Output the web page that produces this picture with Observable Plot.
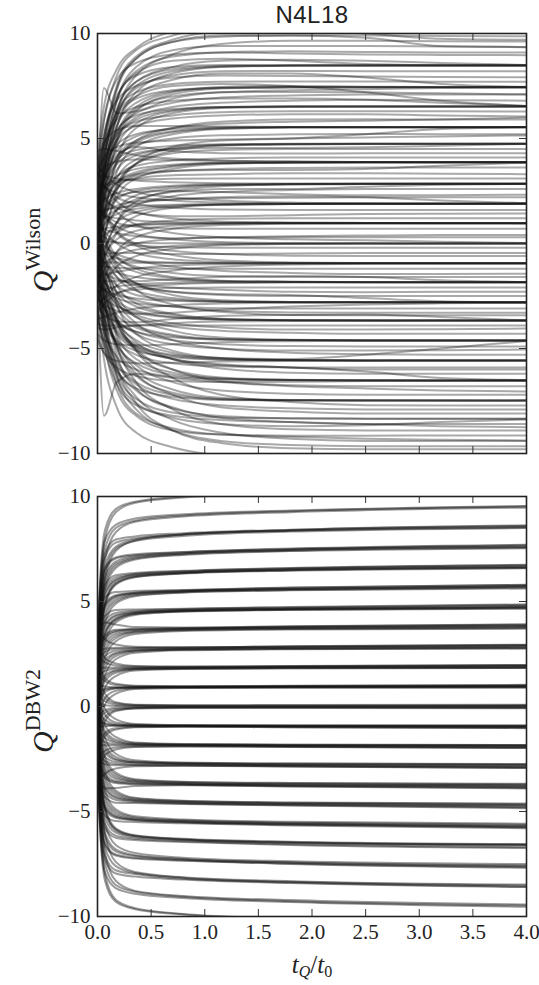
<!DOCTYPE html>
<html><head><meta charset="utf-8">
<script src="https://cdn.jsdelivr.net/npm/d3@7"></script>
<script src="https://cdn.jsdelivr.net/npm/@observablehq/plot@0.6"></script>
<style>
body{margin:0;background:#fff;}
#wrap{position:relative;width:539px;height:985px;overflow:hidden;}
#title{position:absolute;left:97px;top:0;width:430px;height:30px;line-height:30px;text-align:center;font-family:"Liberation Sans",Arial,sans-serif;font-size:24px;color:#222;letter-spacing:0.5px;}
#p1{position:absolute;left:0;top:30px;}
#p2{position:absolute;left:0;top:475px;}
#wrap svg text{font-family:"Liberation Serif","Times New Roman",serif !important;}
</style></head><body>
<div id="wrap"><div id="title">N4L18</div><div id="p1"></div><div id="p2"></div></div>
<script>
const title = "N4L18";
const xTicks = [0, 0.5, 1, 1.5, 2, 2.5, 3, 3.5, 4];
const yTicks = [-10, -5, 0, 5, 10];

// flow-time sample points (t_Q / t_0) at which each curve was read
const tGridW = [0, 0.06, 0.18, 0.36, 0.7, 1.15, 1.8, 2.5, 3.2, 4];
const tGridB = [0, 0.02, 0.07, 0.17, 0.35, 0.8, 1.8, 4];

// Q^Wilson curves, values at tGridW
const wilsonLines = [
[3.5,5.8,8.0,9.2,9.9,10.3,10.4,10.3,10.2,10.2],
[2.0,4.6,7.3,8.8,9.6,9.9,9.9,9.8,9.4,9.35],
[1.2,3.9,6.8,8.4,9.2,9.4,9.4,9.4,9.38,9.36],
[4.2,6.5,8.3,9.3,10.1,10.5,10.6,10.6,10.6,10.6],
[0.5,3.2,6.2,8.0,9.0,9.5,9.65,9.65,9.63,9.62],
[2.8,5.0,7.5,8.9,9.7,10.1,10.2,10.0,9.75,9.7],
[1.5,3.9,6.4,7.7,8.3,8.45,8.48,8.48,8.48,8.48],
[3.0,5.0,7.0,8.0,8.4,8.5,8.5,8.49,8.48,8.48],
[-0.5,2.5,5.5,7.2,8.1,8.4,8.47,8.48,8.49,8.49],
[2.2,4.4,6.9,8.1,8.7,8.8,8.7,8.55,8.5,8.49],
[0.8,3.3,6.0,7.5,8.2,8.42,8.46,8.47,8.47,8.47],
[3.8,5.9,7.8,8.6,9.0,9.1,9.05,9.0,8.98,8.97],
[1.0,3.6,6.3,7.7,8.4,8.7,8.75,8.7,8.6,8.5],
[1.3,3.4,5.6,6.7,7.25,7.4,7.44,7.44,7.44,7.44],
[2.6,4.2,6.0,6.9,7.3,7.42,7.45,7.45,7.45,7.45],
[-1.0,1.8,4.8,6.3,7.1,7.38,7.43,7.44,7.44,7.44],
[3.3,5.2,6.8,7.5,7.9,8.0,7.98,7.95,7.93,7.92],
[0.4,2.8,5.2,6.5,7.2,7.45,7.5,7.47,7.45,7.45],
[2.0,7.4,6.2,6.3,6.9,7.2,7.3,7.35,7.4,7.42],
[0.9,2.9,4.9,5.9,6.35,6.5,6.52,6.52,6.52,6.52],
[2.3,3.8,5.4,6.1,6.4,6.5,6.53,6.53,6.53,6.53],
[-1.4,1.2,4.0,5.5,6.2,6.45,6.5,6.51,6.51,6.51],
[3.0,4.6,5.9,6.5,6.8,6.9,6.9,6.85,6.7,6.55],
[0.2,2.4,4.6,5.7,6.3,6.48,6.52,6.52,6.52,6.53],
[1.8,3.5,5.3,6.2,6.7,6.95,7.05,7.1,7.1,7.1],
[0.6,2.4,4.1,4.9,5.35,5.5,5.54,5.54,5.54,5.54],
[2.7,3.7,4.7,5.2,5.45,5.53,5.55,5.55,5.55,5.55],
[-0.8,1.3,3.4,4.6,5.2,5.45,5.52,5.53,5.53,5.53],
[1.6,3.0,4.4,5.1,5.5,5.7,5.8,5.85,5.9,6.0],
[3.9,4.8,5.4,5.6,5.6,5.57,5.55,5.54,5.54,5.54],
[0.0,2.0,3.9,4.8,5.3,5.48,5.53,5.54,5.54,5.55],
[2.1,3.4,4.9,5.6,5.95,6.1,6.15,6.15,6.1,6.05],
[0.7,2.2,3.5,4.2,4.55,4.7,4.74,4.75,4.75,4.75],
[2.4,3.2,4.0,4.45,4.65,4.73,4.75,4.75,4.75,4.75],
[-1.2,0.8,2.7,3.8,4.4,4.65,4.72,4.74,4.74,4.74],
[3.6,4.1,4.6,4.8,4.9,4.95,5.0,5.05,5.1,5.15],
[1.3,2.6,3.8,4.3,4.5,4.55,4.55,4.58,4.65,4.74],
[-0.2,1.5,3.1,4.0,4.5,4.68,4.73,4.75,4.75,4.76],
[1.9,3.0,4.2,4.6,4.4,4.3,4.28,4.3,4.3,4.3],
[0.5,1.7,2.9,3.4,3.7,3.83,3.86,3.87,3.87,3.87],
[2.0,2.6,3.2,3.55,3.75,3.84,3.87,3.87,3.87,3.87],
[-1.6,0.3,2.2,3.1,3.55,3.78,3.85,3.86,3.86,3.86],
[3.3,3.6,3.9,4.0,3.98,3.93,3.9,3.88,3.88,3.88],
[1.1,2.0,2.9,3.3,3.45,3.5,3.5,3.55,3.7,3.85],
[4.4,4.5,4.4,4.2,4.05,3.95,3.9,3.88,3.87,3.87],
[0.0,1.3,2.6,3.3,3.65,3.82,3.86,3.87,3.87,3.88],
[0.4,1.3,2.1,2.5,2.7,2.8,2.83,2.84,2.84,2.84],
[1.8,2.1,2.4,2.6,2.75,2.82,2.84,2.84,2.84,2.84],
[-1.0,0.4,1.6,2.3,2.62,2.77,2.82,2.84,2.84,2.85],
[3.2,3.2,3.1,3.0,2.92,2.87,2.85,2.84,2.84,2.84],
[2.5,2.7,2.9,3.1,3.25,3.3,3.35,3.35,3.32,3.3],
[-2.3,-0.6,1.0,2.0,2.5,2.73,2.81,2.83,2.84,2.84],
[1.0,1.6,2.2,2.45,2.5,2.45,2.35,2.3,2.3,2.32],
[0.3,0.9,1.4,1.65,1.8,1.86,1.88,1.89,1.89,1.89],
[1.5,1.6,1.7,1.78,1.84,1.88,1.89,1.89,1.89,1.89],
[-0.9,0.1,1.0,1.5,1.75,1.85,1.88,1.89,1.89,1.89],
[2.9,2.7,2.4,2.2,2.05,1.95,1.91,1.9,1.89,1.89],
[0.8,1.2,1.6,1.9,2.1,2.2,2.25,2.2,2.05,1.92],
[-2.0,-0.8,0.5,1.3,1.7,1.84,1.88,1.89,1.89,1.9],
[3.7,3.3,2.8,2.45,2.2,2.05,1.95,1.91,1.9,1.9],
[0.1,0.4,0.7,0.85,0.93,0.96,0.97,0.97,0.97,0.97],
[1.4,1.3,1.2,1.1,1.02,0.99,0.98,0.97,0.97,0.97],
[-1.3,-0.6,0.2,0.6,0.85,0.94,0.96,0.97,0.97,0.97],
[2.5,2.1,1.7,1.45,1.3,1.3,1.35,1.4,1.42,1.43],
[0.6,0.7,0.8,0.9,0.95,0.97,0.98,0.98,0.98,0.97],
[-2.8,-1.7,-0.4,0.3,0.7,0.88,0.94,0.96,0.97,0.97],
[3.4,2.8,2.0,1.5,1.2,1.05,1.0,0.98,0.97,0.97],
[0.2,0.1,0.05,0.02,0.01,0.0,0.0,0.0,0.0,0.0],
[-1.5,-1.0,-0.55,-0.3,-0.12,-0.04,-0.01,0.0,0.0,0.0],
[1.8,1.3,0.8,0.45,0.2,0.07,0.02,0.01,0.0,0.01],
[-0.6,-0.5,-0.45,-0.45,-0.5,-0.5,-0.48,-0.45,-0.45,-0.45],
[0.9,0.7,0.5,0.35,0.25,0.3,0.35,0.38,0.4,0.4],
[-2.6,-1.9,-1.1,-0.6,-0.25,-0.08,-0.02,0.0,0.0,-0.01],
[2.9,2.3,1.5,0.9,0.5,0.3,0.2,0.15,0.08,0.02],
[-0.2,-0.5,-0.7,-0.84,-0.9,-0.93,-0.94,-0.94,-0.94,-0.94],
[1.1,0.6,0.0,-0.45,-0.75,-0.88,-0.93,-0.94,-0.94,-0.94],
[-1.6,-1.5,-1.35,-1.2,-1.05,-0.98,-0.95,-0.94,-0.94,-0.94],
[-3.1,-2.6,-2.0,-1.6,-1.3,-1.1,-1.0,-0.96,-0.95,-0.94],
[0.3,-0.1,-0.5,-0.8,-1.1,-1.3,-1.4,-1.45,-1.45,-1.44],
[-0.9,-0.9,-0.9,-0.92,-0.93,-0.94,-0.94,-0.94,-0.94,-0.95],
[2.2,1.4,0.5,-0.1,-0.55,-0.8,-0.9,-0.93,-0.94,-0.94],
[-0.4,-0.9,-1.35,-1.6,-1.75,-1.81,-1.83,-1.84,-1.84,-1.84],
[0.7,-0.1,-0.9,-1.35,-1.65,-1.78,-1.82,-1.84,-1.84,-1.84],
[-2.3,-2.2,-2.05,-1.95,-1.88,-1.85,-1.84,-1.84,-1.84,-1.84],
[-1.1,-1.4,-1.7,-1.9,-2.1,-2.2,-2.3,-2.32,-2.3,-2.3],
[1.6,0.5,-0.6,-1.2,-1.6,-1.77,-1.82,-1.83,-1.84,-1.85],
[-3.3,-2.9,-2.4,-2.1,-1.95,-1.88,-1.85,-1.84,-1.84,-1.84],
[-1.8,-1.8,-1.8,-1.8,-1.7,-1.6,-1.55,-1.6,-1.75,-1.83],
[-0.5,-1.3,-2.0,-2.45,-2.68,-2.77,-2.8,-2.8,-2.8,-2.8],
[0.9,-0.4,-1.6,-2.25,-2.6,-2.75,-2.79,-2.8,-2.8,-2.8],
[-2.0,-2.2,-2.45,-2.62,-2.73,-2.78,-2.8,-2.8,-2.8,-2.81],
[-3.6,-3.5,-3.3,-3.1,-2.95,-2.86,-2.82,-2.8,-2.8,-2.8],
[-1.3,-1.8,-2.3,-2.7,-3.0,-3.2,-3.28,-3.3,-3.3,-3.3],
[2.0,0.5,-1.0,-1.9,-2.45,-2.7,-2.78,-2.8,-2.8,-2.8],
[-2.6,-2.9,-3.2,-3.35,-3.3,-3.15,-3.0,-2.9,-2.85,-2.82],
[-0.6,-1.7,-2.7,-3.2,-3.5,-3.62,-3.66,-3.67,-3.67,-3.67],
[1.0,-0.5,-2.0,-2.85,-3.35,-3.58,-3.65,-3.67,-3.67,-3.67],
[-2.2,-2.6,-3.0,-3.3,-3.52,-3.63,-3.66,-3.67,-3.67,-3.68],
[-4.0,-4.1,-4.0,-3.9,-3.8,-3.72,-3.69,-3.68,-3.67,-3.67],
[-1.4,-2.1,-2.9,-3.4,-3.8,-4.0,-4.1,-4.1,-4.08,-4.05],
[0.2,-1.0,-2.3,-3.0,-3.4,-3.6,-3.65,-3.66,-3.67,-3.67],
[-3.0,-3.4,-3.7,-3.75,-3.6,-3.45,-3.4,-3.38,-3.5,-3.66],
[-0.7,-2.1,-3.4,-4.0,-4.4,-4.56,-4.6,-4.62,-4.62,-4.62],
[1.3,-0.5,-2.4,-3.5,-4.15,-4.48,-4.58,-4.61,-4.62,-4.62],
[-2.5,-3.1,-3.8,-4.2,-4.47,-4.58,-4.61,-4.62,-4.62,-4.63],
[-4.3,-4.6,-4.8,-4.85,-4.8,-4.7,-4.65,-4.63,-4.62,-4.62],
[-1.6,-2.6,-3.6,-4.3,-4.8,-5.0,-5.1,-5.1,-5.08,-5.05],
[0.0,-1.5,-3.0,-3.9,-4.35,-4.55,-4.6,-4.62,-4.62,-4.61],
[-0.8,-2.6,-4.2,-4.9,-5.35,-5.52,-5.56,-5.57,-5.57,-5.57],
[1.6,-0.6,-2.9,-4.3,-5.1,-5.45,-5.55,-5.57,-5.57,-5.57],
[-2.7,-3.6,-4.6,-5.1,-5.42,-5.53,-5.56,-5.57,-5.57,-5.58],
[-4.6,-5.2,-5.6,-5.7,-5.68,-5.62,-5.59,-5.58,-5.57,-5.57],
[-1.9,-3.0,-4.3,-5.0,-5.5,-5.75,-5.9,-6.0,-6.0,-6.0],
[0.4,-1.7,-3.6,-4.6,-5.2,-5.48,-5.55,-5.57,-5.57,-5.56],
[-0.9,-2.9,-4.8,-5.7,-6.25,-6.45,-6.5,-6.52,-6.52,-6.52],
[1.2,-1.2,-3.7,-5.1,-6.0,-6.38,-6.49,-6.51,-6.52,-6.52],
[-3.0,-4.2,-5.4,-6.0,-6.35,-6.48,-6.51,-6.52,-6.52,-6.53],
[-2.0,-8.2,-6.6,-6.2,-6.4,-6.6,-6.8,-6.9,-7.0,-7.05],
[-4.4,-5.2,-5.9,-6.3,-6.55,-6.6,-6.58,-6.55,-6.53,-6.52],
[0.1,-2.0,-4.3,-5.5,-6.15,-6.42,-6.5,-6.51,-6.52,-6.52],
[-1.0,-3.3,-5.5,-6.6,-7.2,-7.42,-7.47,-7.48,-7.48,-7.48],
[0.9,-1.8,-4.5,-6.0,-6.95,-7.35,-7.45,-7.47,-7.48,-7.48],
[-3.4,-4.8,-6.1,-6.9,-7.3,-7.45,-7.48,-7.48,-7.48,-7.49],
[-2.1,-3.9,-5.7,-6.7,-7.4,-7.7,-7.85,-7.9,-7.9,-7.9],
[-0.2,-2.6,-5.0,-6.3,-7.1,-7.4,-7.46,-7.48,-7.48,-7.47],
[-1.1,-3.7,-6.2,-7.4,-8.05,-8.28,-8.33,-8.35,-8.35,-8.35],
[0.6,-2.4,-5.3,-6.9,-7.85,-8.22,-8.32,-8.34,-8.35,-8.35],
[-3.2,-4.9,-6.7,-7.7,-8.2,-8.4,-8.5,-8.6,-8.7,-8.75],
[-2.0,-4.2,-6.4,-7.6,-8.3,-8.6,-8.7,-8.65,-8.5,-8.38],
[-1.8,-4.5,-7.0,-8.2,-8.9,-9.1,-9.15,-9.15,-9.14,-9.14],
[-0.4,-3.4,-6.3,-7.9,-8.9,-9.4,-9.6,-9.65,-9.65,-9.65],
[-3.0,-5.5,-7.8,-9.0,-9.7,-10.1,-10.3,-10.3,-10.3,-10.3],
[-1.2,-4.0,-6.7,-8.1,-8.8,-9.1,-9.2,-9.3,-9.35,-9.38],
[2.6,4.8,7.4,8.8,9.6,9.85,9.9,9.9,9.88,9.87],
[1.8,4.0,6.8,8.2,8.9,9.1,9.15,9.12,9.1,9.1],
[0.9,3.3,6.0,7.4,8.0,8.2,8.22,8.2,8.2,8.2],
[2.9,4.3,6.3,7.2,7.6,7.7,7.72,7.72,7.7,7.7],
[-0.3,2.3,5.0,6.4,7.0,7.2,7.22,7.2,7.15,7.1],
[1.4,3.1,5.0,6.0,6.5,6.7,6.8,6.85,6.82,6.8],
[3.2,4.0,5.2,5.8,6.1,6.25,6.3,6.3,6.3,6.28],
[0.2,1.9,3.8,4.9,5.5,5.8,5.9,5.92,5.9,5.9],
[2.2,3.0,4.1,4.7,5.0,5.15,5.2,5.22,5.2,5.2],
[-0.7,1.0,2.8,3.8,4.3,4.45,4.5,4.5,4.5,4.5],
[1.5,2.3,3.2,3.7,3.95,4.05,4.1,4.1,4.1,4.1],
[0.6,1.5,2.6,3.2,3.45,3.55,3.6,3.62,3.62,3.62],
[2.7,2.8,3.0,3.05,3.08,3.1,3.1,3.1,3.1,3.1],
[-1.5,-0.4,1.0,1.8,2.25,2.45,2.55,2.6,2.6,2.6],
[1.2,1.5,1.8,2.0,2.1,2.15,2.18,2.2,2.2,2.2],
[3.0,2.7,2.2,1.9,1.7,1.62,1.6,1.6,1.6,1.6],
[-0.8,-0.2,0.5,0.9,1.1,1.18,1.2,1.2,1.2,1.2],
[1.7,1.4,1.0,0.8,0.72,0.7,0.7,0.7,0.7,0.7],
[-2.0,-1.3,-0.4,0.0,0.2,0.28,0.3,0.3,0.3,0.3],
[0.5,0.3,0.05,-0.1,-0.18,-0.2,-0.2,-0.2,-0.2,-0.2],
[2.4,1.6,0.6,0.0,-0.35,-0.5,-0.58,-0.6,-0.6,-0.6],
[-1.0,-1.1,-1.15,-1.18,-1.2,-1.2,-1.2,-1.2,-1.2,-1.2],
[0.8,0.1,-0.7,-1.1,-1.4,-1.55,-1.6,-1.6,-1.6,-1.6],
[-2.8,-2.6,-2.35,-2.2,-2.12,-2.1,-2.1,-2.1,-2.1,-2.1],
[-0.2,-0.8,-1.6,-2.0,-2.3,-2.45,-2.5,-2.5,-2.5,-2.5],
[-1.9,-2.2,-2.6,-2.85,-3.0,-3.08,-3.1,-3.1,-3.1,-3.1],
[1.4,0.3,-1.2,-2.2,-2.9,-3.25,-3.4,-3.42,-3.42,-3.42],
[-3.8,-3.9,-3.9,-3.9,-3.9,-3.9,-3.9,-3.9,-3.9,-3.9],
[-0.9,-1.7,-2.8,-3.5,-3.95,-4.15,-4.25,-4.3,-4.3,-4.3],
[-2.6,-3.0,-3.7,-4.2,-4.6,-4.8,-4.88,-4.9,-4.9,-4.9],
[0.3,-1.0,-2.7,-3.8,-4.6,-5.0,-5.2,-5.27,-5.3,-5.3],
[-3.3,-3.9,-4.7,-5.3,-5.7,-5.85,-5.9,-5.9,-5.9,-5.9],
[-1.2,-2.3,-3.7,-4.7,-5.5,-5.95,-6.15,-6.2,-6.2,-6.2],
[-0.1,-1.7,-3.7,-5.0,-6.0,-6.55,-6.75,-6.8,-6.8,-6.8],
[-2.3,-3.4,-4.8,-5.8,-6.6,-7.0,-7.15,-7.2,-7.2,-7.2],
[0.7,-1.1,-3.5,-5.1,-6.4,-7.2,-7.55,-7.7,-7.72,-7.72],
[-1.6,-3.0,-4.9,-6.2,-7.2,-7.8,-8.0,-8.1,-8.1,-8.1],
[-3.6,-4.6,-6.0,-7.0,-7.8,-8.3,-8.5,-8.6,-8.6,-8.6],
[-0.6,-2.5,-4.9,-6.6,-7.9,-8.6,-8.85,-8.9,-8.9,-8.9],
[-2.4,-3.9,-5.9,-7.3,-8.4,-9.0,-9.3,-9.4,-9.4,-9.4],
[-1.4,-3.4,-5.9,-7.6,-8.9,-9.5,-9.75,-9.8,-9.8,-9.8],
[1.0,3.0,5.6,7.0,7.8,8.1,8.1,7.9,7.6,7.46],
[-1.7,0.2,2.5,3.8,4.6,4.9,5.0,5.2,5.45,5.53],
[0.4,-0.3,-1.3,-1.9,-2.3,-2.4,-2.45,-2.6,-2.75,-2.8],
[-2.2,-3.0,-4.1,-4.9,-5.5,-5.8,-5.9,-6.1,-6.4,-6.5],
[3.6,4.7,6.2,7.0,7.5,7.6,7.5,7.2,6.8,6.55],
[0.1,0.8,1.6,2.1,2.45,2.6,2.6,2.7,2.8,2.84],
[-1.3,-2.4,-3.9,-4.8,-5.3,-5.45,-5.5,-5.3,-5.0,-4.65]
];

// Q^DBW2 curves, values at tGridB
const dbw2Lines = [
[1.5,5.5,8.4,9.4,9.75,10.0,10.2,10.45],
[0.6,4.9,8.0,9.25,9.7,9.95,10.15,10.38],
[0.8,4.6,7.5,8.5,8.85,9.1,9.3,9.52],
[2.0,5.4,7.9,8.65,8.95,9.15,9.33,9.55],
[-0.5,3.8,7.0,8.3,8.8,9.05,9.25,9.47],
[0.4,4.1,6.7,7.6,7.95,8.18,8.38,8.56],
[-0.8,3.2,6.1,7.4,7.9,8.2,8.4,8.6],
[1.2,4.8,7.1,7.8,8.0,8.2,8.37,8.52],
[2.4,5.2,7.3,7.95,8.1,8.25,8.42,8.63],
[0.0,3.6,6.4,7.5,7.88,8.12,8.33,8.5],
[0.2,3.6,6.0,6.8,7.1,7.28,7.45,7.6],
[1.6,4.4,6.5,7.05,7.2,7.34,7.5,7.68],
[-1.0,2.9,5.6,6.6,7.0,7.22,7.4,7.53],
[0.9,3.9,6.2,6.9,7.15,7.3,7.47,7.62],
[2.5,4.7,6.6,7.1,7.25,7.36,7.52,7.7],
[-0.4,3.2,5.8,6.7,7.05,7.25,7.42,7.56],
[0.5,3.2,5.3,6.0,6.25,6.38,6.52,6.65],
[-1.3,2.4,4.8,5.8,6.15,6.33,6.47,6.58],
[1.8,3.9,5.6,6.15,6.32,6.44,6.58,6.73],
[0.1,2.9,5.0,5.9,6.2,6.36,6.5,6.62],
[2.9,4.3,5.8,6.25,6.36,6.46,6.6,6.75],
[-0.6,2.7,4.9,5.85,6.18,6.35,6.49,6.6],
[1.0,3.4,5.4,6.05,6.28,6.41,6.55,6.68],
[0.3,2.7,4.5,5.1,5.35,5.47,5.58,5.7],
[2.1,3.6,4.9,5.3,5.42,5.53,5.65,5.79],
[-1.5,1.9,4.0,4.9,5.25,5.42,5.53,5.62],
[0.9,3.0,4.7,5.2,5.38,5.5,5.61,5.74],
[-0.4,2.3,4.3,5.0,5.3,5.44,5.55,5.66],
[3.2,4.2,5.2,5.45,5.5,5.55,5.67,5.8],
[1.4,3.2,4.8,5.25,5.4,5.49,5.6,5.72],
[0.6,2.4,3.8,4.3,4.48,4.58,4.66,4.75],
[-0.9,1.7,3.4,4.1,4.4,4.53,4.61,4.68],
[1.9,3.1,4.1,4.45,4.56,4.64,4.72,4.84],
[0.2,2.1,3.6,4.2,4.45,4.56,4.64,4.73],
[2.6,3.5,4.3,4.6,4.62,4.66,4.74,4.86],
[-2.0,1.1,3.1,4.0,4.36,4.51,4.6,4.66],
[1.2,2.7,3.9,4.35,4.5,4.6,4.68,4.79],
[-0.3,1.9,3.5,4.15,4.42,4.55,4.63,4.71],
[0.4,1.9,3.0,3.45,3.6,3.68,3.74,3.8],
[-1.2,1.1,2.6,3.25,3.52,3.63,3.69,3.73],
[2.2,2.8,3.4,3.65,3.7,3.74,3.81,3.9],
[1.0,2.2,3.2,3.55,3.64,3.7,3.76,3.83],
[-0.3,1.5,2.8,3.35,3.56,3.66,3.72,3.77],
[3.1,3.6,4.0,3.9,3.78,3.76,3.82,3.91],
[-2.1,0.5,2.3,3.1,3.45,3.6,3.67,3.71],
[1.6,2.5,3.3,3.6,3.68,3.72,3.78,3.86],
[0.3,1.4,2.2,2.55,2.68,2.74,2.79,2.84],
[-1.6,0.6,1.8,2.4,2.62,2.7,2.74,2.77],
[1.8,2.2,2.6,2.75,2.78,2.8,2.86,2.93],
[0.9,1.7,2.4,2.65,2.72,2.76,2.81,2.87],
[3.4,3.5,3.2,2.95,2.85,2.82,2.87,2.94],
[-0.6,1.0,2.0,2.5,2.66,2.72,2.76,2.8],
[2.4,2.6,2.75,2.8,2.8,2.81,2.85,2.9],
[-2.6,-0.2,1.5,2.25,2.56,2.68,2.73,2.76],
[0.2,0.9,1.5,1.72,1.8,1.83,1.86,1.89],
[-1.1,0.3,1.2,1.6,1.76,1.8,1.82,1.83],
[2.4,2.3,2.1,1.95,1.9,1.89,1.92,1.97],
[1.1,1.4,1.7,1.8,1.83,1.85,1.88,1.92],
[3.0,2.7,2.3,2.05,1.93,1.9,1.93,1.98],
[-0.5,0.6,1.35,1.68,1.79,1.82,1.84,1.86],
[1.7,1.8,1.85,1.86,1.86,1.87,1.9,1.94],
[-2.4,-0.6,0.9,1.45,1.72,1.79,1.82,1.84],
[0.1,0.5,0.8,0.88,0.91,0.92,0.94,0.96],
[-1.4,-0.4,0.4,0.75,0.87,0.9,0.91,0.91],
[2.1,1.6,1.2,1.02,0.97,0.96,0.98,1.02],
[1.0,1.0,0.95,0.92,0.92,0.93,0.95,0.98],
[-0.2,0.3,0.7,0.86,0.9,0.91,0.92,0.93],
[2.8,2.0,1.35,1.08,0.99,0.97,0.99,1.03],
[0.5,0.7,0.85,0.9,0.92,0.93,0.95,0.97],
[-2.2,-1.0,0.1,0.6,0.83,0.88,0.9,0.9],
[0.3,0.15,0.06,0.02,0.01,0.0,0.0,0.02],
[-1.2,-0.7,-0.3,-0.12,-0.06,-0.04,-0.04,-0.05],
[1.6,0.9,0.4,0.15,0.07,0.05,0.05,0.06],
[-2.2,-1.2,-0.5,-0.18,-0.08,-0.05,-0.05,-0.06],
[0.9,0.6,0.25,0.08,0.03,0.02,0.02,0.03],
[-0.6,-0.4,-0.18,-0.06,-0.03,-0.02,-0.02,-0.02],
[2.5,1.5,0.6,0.2,0.08,0.06,0.07,0.08],
[-3.0,-1.8,-0.7,-0.22,-0.09,-0.07,-0.07,-0.08],
[-0.2,-0.55,-0.8,-0.89,-0.91,-0.92,-0.94,-0.95],
[1.3,0.3,-0.4,-0.76,-0.87,-0.9,-0.91,-0.91],
[-2.3,-1.7,-1.25,-1.04,-0.98,-0.97,-0.99,-1.02],
[-0.9,-0.95,-0.94,-0.92,-0.92,-0.93,-0.95,-0.98],
[0.4,-0.2,-0.65,-0.84,-0.9,-0.91,-0.92,-0.93],
[-2.9,-2.1,-1.4,-1.1,-0.99,-0.97,-0.99,-1.03],
[-0.5,-0.7,-0.85,-0.9,-0.92,-0.93,-0.95,-0.97],
[2.3,1.0,-0.1,-0.6,-0.83,-0.88,-0.9,-0.9],
[-0.3,-1.0,-1.5,-1.72,-1.8,-1.83,-1.86,-1.88],
[1.0,-0.2,-1.15,-1.58,-1.75,-1.8,-1.82,-1.83],
[-2.5,-2.35,-2.1,-1.95,-1.9,-1.89,-1.92,-1.97],
[-1.2,-1.45,-1.7,-1.8,-1.83,-1.85,-1.88,-1.92],
[-3.2,-2.8,-2.3,-2.05,-1.93,-1.9,-1.93,-1.98],
[0.4,-0.5,-1.3,-1.66,-1.79,-1.82,-1.84,-1.86],
[-1.7,-1.8,-1.85,-1.86,-1.86,-1.87,-1.9,-1.94],
[2.5,0.7,-0.9,-1.45,-1.72,-1.79,-1.82,-1.84],
[-0.4,-1.4,-2.2,-2.55,-2.67,-2.73,-2.78,-2.82],
[1.5,-0.5,-1.8,-2.4,-2.62,-2.69,-2.72,-2.75],
[-1.9,-2.2,-2.6,-2.74,-2.78,-2.8,-2.85,-2.92],
[-0.8,-1.7,-2.4,-2.64,-2.71,-2.75,-2.8,-2.86],
[-3.5,-3.45,-3.2,-2.95,-2.85,-2.82,-2.86,-2.93],
[0.7,-0.9,-2.0,-2.5,-2.66,-2.71,-2.75,-2.79],
[-2.5,-2.6,-2.75,-2.8,-2.8,-2.81,-2.84,-2.89],
[2.7,0.3,-1.5,-2.25,-2.56,-2.67,-2.72,-2.74],
[-0.5,-1.9,-3.0,-3.44,-3.58,-3.66,-3.72,-3.77],
[1.1,-1.0,-2.6,-3.25,-3.5,-3.6,-3.66,-3.7],
[-2.3,-2.8,-3.4,-3.64,-3.7,-3.73,-3.8,-3.88],
[-1.1,-2.3,-3.2,-3.55,-3.63,-3.69,-3.75,-3.81],
[0.2,-1.5,-2.8,-3.35,-3.55,-3.64,-3.7,-3.75],
[-3.0,-3.5,-3.9,-3.88,-3.78,-3.75,-3.81,-3.9],
[2.0,-0.6,-2.4,-3.15,-3.46,-3.58,-3.64,-3.68],
[-1.6,-2.5,-3.3,-3.6,-3.68,-3.71,-3.77,-3.84],
[-0.5,-2.4,-3.8,-4.3,-4.47,-4.56,-4.64,-4.72],
[0.9,-1.6,-3.4,-4.1,-4.38,-4.5,-4.58,-4.65],
[-1.8,-3.0,-4.1,-4.44,-4.55,-4.62,-4.7,-4.81],
[-0.1,-2.1,-3.6,-4.2,-4.44,-4.54,-4.62,-4.7],
[-2.7,-3.5,-4.3,-4.58,-4.6,-4.64,-4.72,-4.84],
[1.9,-1.1,-3.1,-4.0,-4.35,-4.49,-4.57,-4.62],
[-1.2,-2.7,-3.9,-4.35,-4.5,-4.59,-4.67,-4.77],
[-0.2,-2.6,-4.5,-5.1,-5.33,-5.45,-5.56,-5.67],
[-2.0,-3.6,-4.9,-5.3,-5.42,-5.52,-5.63,-5.76],
[1.4,-1.8,-4.0,-4.9,-5.23,-5.38,-5.49,-5.58],
[-0.9,-3.0,-4.7,-5.2,-5.37,-5.48,-5.59,-5.71],
[0.5,-2.2,-4.3,-5.0,-5.28,-5.42,-5.53,-5.63],
[-3.1,-4.2,-5.2,-5.45,-5.5,-5.56,-5.67,-5.8],
[-1.4,-3.2,-4.8,-5.25,-5.4,-5.5,-5.61,-5.73],
[-0.4,-3.2,-5.3,-6.0,-6.23,-6.36,-6.5,-6.62],
[1.2,-2.4,-4.8,-5.8,-6.13,-6.3,-6.44,-6.55],
[-1.7,-3.9,-5.6,-6.15,-6.3,-6.42,-6.56,-6.7],
[-0.1,-2.9,-5.0,-5.9,-6.18,-6.34,-6.48,-6.59],
[-2.8,-4.3,-5.8,-6.25,-6.36,-6.45,-6.6,-6.74],
[0.6,-2.7,-4.9,-5.85,-6.16,-6.32,-6.46,-6.57],
[-0.3,-3.6,-6.0,-6.8,-7.08,-7.26,-7.42,-7.57],
[-1.5,-4.4,-6.5,-7.05,-7.2,-7.32,-7.48,-7.65],
[1.0,-2.9,-5.6,-6.6,-6.98,-7.2,-7.37,-7.5],
[-0.8,-3.9,-6.2,-6.9,-7.12,-7.28,-7.44,-7.6],
[-2.6,-4.8,-6.6,-7.1,-7.24,-7.34,-7.5,-7.68],
[-0.4,-4.1,-6.7,-7.6,-7.93,-8.15,-8.35,-8.52],
[0.8,-3.2,-6.1,-7.4,-7.88,-8.13,-8.32,-8.48],
[-1.2,-4.8,-7.1,-7.8,-7.98,-8.2,-8.38,-8.58],
[-2.2,-5.2,-7.3,-7.95,-8.1,-8.24,-8.41,-8.6],
[-0.8,-4.6,-7.5,-8.5,-8.82,-9.06,-9.27,-9.48],
[-1.9,-5.4,-7.9,-8.65,-8.92,-9.12,-9.31,-9.54],
[0.5,-3.8,-7.0,-8.3,-8.78,-9.02,-9.22,-9.43],
[-1.4,-5.4,-8.3,-9.3,-9.65,-9.9,-10.15,-10.42],
[-0.6,-4.9,-8.0,-9.2,-9.6,-9.88,-10.1,-10.35]
];

const minus = d => d < 0 ? "\u2212" + (-d) : String(d);
const serif = "Liberation Serif";

function rowsOf(lines, grid) {
  return lines.flatMap((vals, id) => vals.map((q, i) => ({t: grid[i], q, id})));
}

function panel(rows, {height, marginTop, marginBottom, showX, opacity}) {
  const innerH = height - marginTop - marginBottom;
  const innerW = 539 - 97 - 13;
  const marks = [
    Plot.line(rows, {x: "t", y: "q", z: "id", stroke: "#111", strokeOpacity: opacity, strokeWidth: 2, curve: "monotone-x", clip: true}),
    Plot.tickX(xTicks, {x: d => d, insetTop: innerH - 7, stroke: "#333", strokeWidth: 1}),
    Plot.tickX(xTicks, {x: d => d, insetBottom: innerH - 7, stroke: "#333", strokeWidth: 1}),
    Plot.tickY(yTicks, {y: d => d, insetRight: innerW - 7, stroke: "#333", strokeWidth: 1}),
    Plot.tickY(yTicks, {y: d => d, insetLeft: innerW - 7, stroke: "#333", strokeWidth: 1}),
    Plot.frame({stroke: "#222", strokeWidth: 1.6}),
    Plot.axisY(yTicks, {tickSize: 0, tickPadding: 7, tickFormat: minus, label: null, fontSize: 21, fill: "#222"})
  ];
  if (showX) marks.push(Plot.axisX(xTicks, {tickSize: 0, tickPadding: 8, tickFormat: d3.format(".1f"), label: null, fontSize: 21, fill: "#222"}));
  return Plot.plot({
    width: 539, height, marginLeft: 97, marginRight: 13, marginTop, marginBottom,
    x: {domain: [0, 4], axis: showX ? undefined : null},
    y: {domain: [-10, 10]},
    style: {fontFamily: serif, fontSize: "21px", color: "#222", background: "transparent", overflow: "visible"},
    marks
  });
}

function yLabel(svg, cx, cy, sup) {
  const t = d3.select(svg).append("text")
    .attr("transform", `translate(${cx},${cy}) rotate(-90)`)
    .attr("text-anchor", "middle").attr("fill", "#222");
  t.append("tspan").attr("font-style", "italic").attr("font-size", 30).text("Q");
  t.append("tspan").attr("font-size", 22).attr("dy", -13).text(sup);
}

const svg1 = panel(rowsOf(wilsonLines, tGridW), {height: 445, marginTop: 3, marginBottom: 22, showX: false, opacity: 0.36});
yLabel(svg1, 53, 220, "Wilson");
document.getElementById("p1").appendChild(svg1);

const svg2 = panel(rowsOf(dbw2Lines, tGridB), {height: 510, marginTop: 21, marginBottom: 69, showX: true, opacity: 0.42});
yLabel(svg2, 53, 236, "DBW2");
const xl = d3.select(svg2).append("text").attr("x", 312).attr("y", 498)
  .attr("text-anchor", "middle").attr("fill", "#222").attr("font-size", 25);
xl.append("tspan").attr("font-style", "italic").text("t");
xl.append("tspan").attr("font-style", "italic").attr("font-size", 16).attr("dy", 4).text("Q");
xl.append("tspan").attr("dy", -4).text("/");
xl.append("tspan").attr("font-style", "italic").text("t");
xl.append("tspan").attr("font-size", 16).attr("dy", 4).text("0");
document.getElementById("p2").appendChild(svg2);
</script>
</body></html>
